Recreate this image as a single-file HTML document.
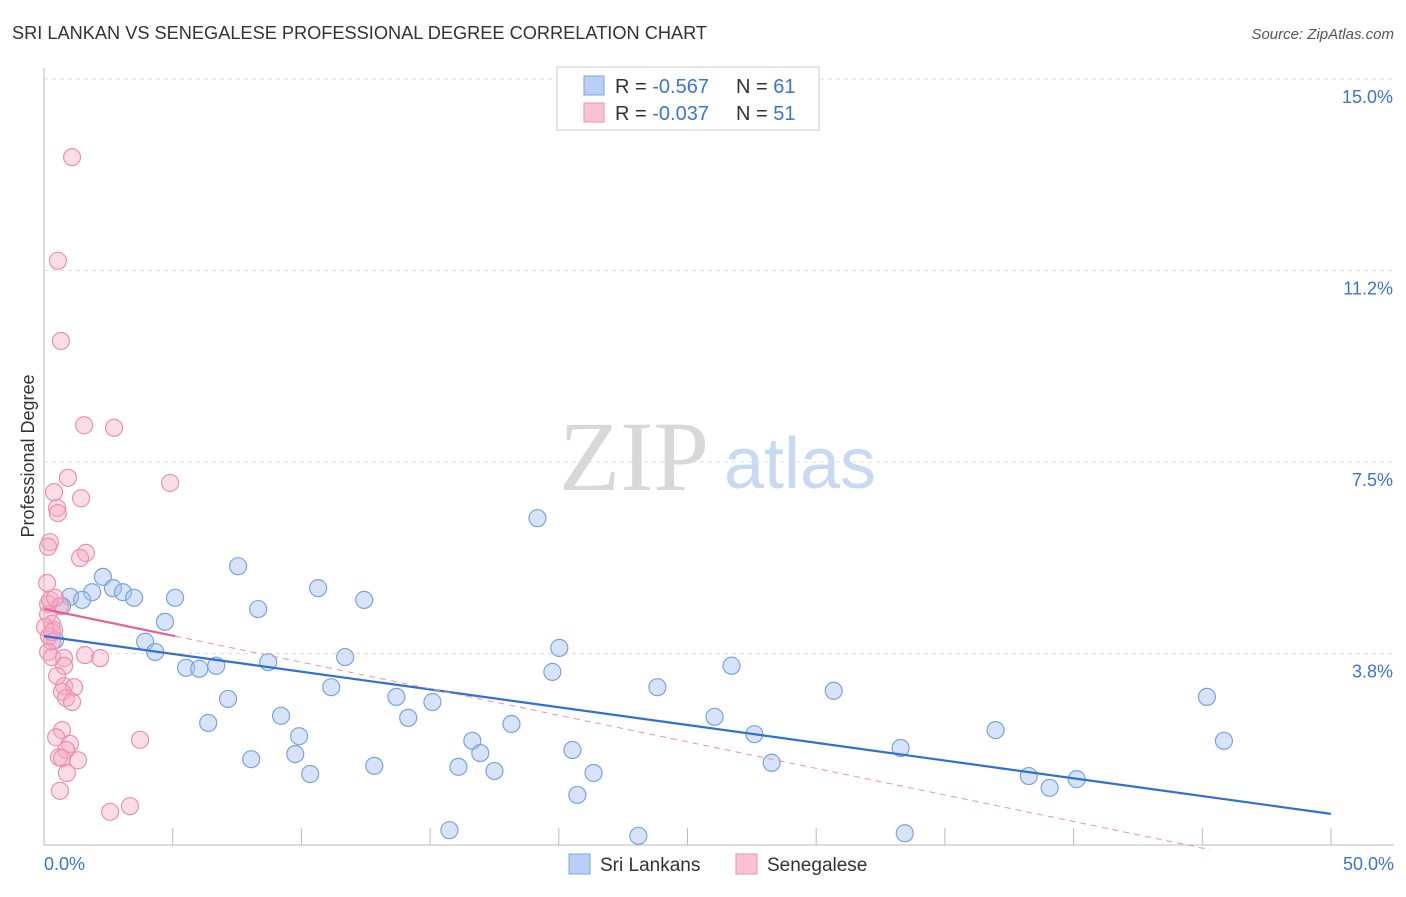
<!DOCTYPE html>
<html><head><meta charset="utf-8"><style>
body{margin:0;background:#fff;font-family:"Liberation Sans",sans-serif;}
svg text{font-family:"Liberation Sans",sans-serif;}
</style></head><body>
<svg id="chart" width="1406" height="892">
<text x="12" y="39" font-size="18.2" fill="#333">SRI LANKAN VS SENEGALESE PROFESSIONAL DEGREE CORRELATION CHART</text>
<text x="1394" y="39" font-size="15" fill="#555" font-style="italic" text-anchor="end">Source: ZipAtlas.com</text>
<text x="34" y="456" font-size="18" fill="#333" text-anchor="middle" transform="rotate(-90 34 456)">Professional Degree</text>
<g>
<text x="634" y="490" font-size="100" fill="#d8d8d8" style="font-family:'Liberation Serif',serif" text-anchor="middle">ZIP</text>
<text x="800" y="488" font-size="72" fill="#c8daf3" text-anchor="middle">atlas</text>
</g>
<g id="grid"></g><g id="axes"></g><g id="marks"></g>
<g>
<rect x="557" y="67" width="262" height="63" fill="#fff" stroke="#ccc"/>
<rect x="584" y="76" width="20" height="19" fill="#b8d0f5" stroke="#7ba3e0"/>
<rect x="584" y="103" width="20" height="19" fill="#f8c4d5" stroke="#ee8fb0"/>
<text x="615" y="93" font-size="20" fill="#333">R = <tspan fill="#3a74d6">-0.567</tspan><tspan x="736">N = </tspan><tspan fill="#3a74d6">61</tspan></text>
<text x="615" y="120" font-size="20" fill="#333">R = <tspan fill="#3a74d6">-0.037</tspan><tspan x="736">N = </tspan><tspan fill="#3a74d6">51</tspan></text>
</g>
<g>
<rect x="569" y="854" width="21" height="20" fill="#b8d0f5" stroke="#7ba3e0"/>
<text x="600" y="871" font-size="19" fill="#333">Sri Lankans</text>
<rect x="736" y="854" width="21" height="20" fill="#f8c4d5" stroke="#ee8fb0"/>
<text x="767" y="871" font-size="19" fill="#333">Senegalese</text>
</g>
</svg>
<script>
const yTicks=[3.75,7.5,11.25,15];
const yTickLabels=["3.8%","7.5%","11.2%","15.0%"];
const xTicks=[0,5,10,15,20,25,30,35,40,45,50];
const xEndLabels=["0.0%","50.0%"];
const blueX=[19.17,7.54,10.65,2.29,2.68,3.07,1.87,1.01,1.48,3.50,5.09,8.32,12.44,0.70,0.43,4.70,3.93,4.32,20.02,11.70,8.71,5.52,6.03,6.69,26.71,19.75,11.16,23.83,30.68,45.18,13.69,15.09,7.15,9.21,14.15,26.05,6.38,18.16,36.97,27.60,9.91,16.64,45.84,16.95,33.28,20.53,9.76,8.05,12.83,16.10,28.27,17.50,10.34,21.35,38.26,40.12,39.07,20.72,15.75,23.09,33.44];
const blueY=[6.40,5.46,5.03,5.25,5.03,4.95,4.95,4.86,4.80,4.84,4.84,4.62,4.80,4.68,4.01,4.37,3.98,3.78,3.86,3.68,3.58,3.47,3.45,3.51,3.51,3.39,3.09,3.09,3.02,2.90,2.90,2.80,2.86,2.53,2.49,2.51,2.39,2.37,2.25,2.17,2.13,2.04,2.04,1.80,1.90,1.86,1.78,1.68,1.55,1.53,1.61,1.45,1.39,1.41,1.35,1.29,1.12,0.98,0.29,0.18,0.23];
const pinkX=[1.09,0.54,0.66,1.56,2.72,4.90,0.93,0.39,1.44,0.51,0.54,0.23,0.16,1.63,1.40,0.12,0.16,0.62,0.16,0.31,0.39,0.19,0.31,0.16,0.31,0.78,2.18,1.59,0.78,0.51,0.78,1.17,0.70,0.86,1.09,0.70,0.47,3.73,1.01,0.86,0.58,0.70,1.32,0.89,0.62,3.34,2.57,0.23,0.04,0.31,0.43];
const pinkY=[13.47,11.44,9.87,8.22,8.17,7.09,7.19,6.91,6.79,6.60,6.50,5.93,5.84,5.72,5.62,5.13,4.72,4.68,4.52,4.33,4.21,4.09,3.98,3.78,3.68,3.66,3.66,3.72,3.51,3.31,3.11,3.09,3.00,2.88,2.80,2.25,2.11,2.06,1.98,1.86,1.72,1.70,1.66,1.41,1.06,0.76,0.65,4.80,4.27,4.17,4.84];
const blueTrend=[4.09,0.61];
const pinkTrend=[4.62,-0.104];
const NS="http://www.w3.org/2000/svg";
const X=v=>44+v/50*1287, Y=v=>845-v/3.75*191.5;
function mk(tag,attrs,parent){const e=document.createElementNS(NS,tag);for(const k in attrs)e.setAttribute(k,attrs[k]);parent.appendChild(e);return e;}
const grid=document.getElementById('grid'),axes=document.getElementById('axes'),marks=document.getElementById('marks');
yTicks.forEach((t,i)=>{
  const l=mk('line',{x1:44,x2:1394,y1:Y(t),y2:Y(t),stroke:'#ddd','stroke-dasharray':'4,4'},grid);
  
  
  const tx=mk('text',{x:1393,y:Y(t)+24,'font-size':18,fill:'#3a74d6','text-anchor':'end'},axes);
  tx.textContent=yTickLabels[i];
  
  
});
const yl=mk('line',{x1:44,x2:44,y1:68,y2:845,stroke:'#bbb'},axes);


const xl=mk('line',{x1:44,x2:1394,y1:845,y2:845,stroke:'#bbb'},axes);


xTicks.forEach(t=>{const l=mk('line',{x1:X(t),x2:X(t),y1:828,y2:845,stroke:'#bbb'},axes);
  
  });
[[0,'start',44],[50,'end',1394]].forEach((a,i)=>{const t=mk('text',{x:a[2],y:870,'font-size':18,fill:'#3a74d6','text-anchor':a[1]},axes);t.textContent=xEndLabels[i];
  
  });
blueX.forEach((x,i)=>{const c=mk('circle',{cx:X(x),cy:Y(blueY[i]),r:8.5,fill:'rgba(164,194,240,0.45)',stroke:'#7ba3e0','stroke-width':1.2},marks);
  
  });
pinkX.forEach((x,i)=>{const c=mk('circle',{cx:X(x),cy:Y(pinkY[i]),r:8.5,fill:'rgba(244,170,195,0.4)',stroke:'#ee8fb0','stroke-width':1.2},marks);
  
  });
const bt=mk('line',{x1:X(0),y1:Y(blueTrend[0]),x2:X(50),y2:Y(blueTrend[1]),stroke:'#2f6fd6','stroke-width':2.2},marks);


const pf=x=>pinkTrend[0]+pinkTrend[1]*x;
const pd=mk('line',{x1:X(5.1),y1:Y(pf(5.1)),x2:X(45.3),y2:Y(pf(45.3)),stroke:'#ee8fb0','stroke-width':1,'stroke-dasharray':'6,5'},marks);


const ps=mk('line',{x1:X(0),y1:Y(pf(0)),x2:X(5.1),y2:Y(pf(5.1)),stroke:'#e8608f','stroke-width':2.2},marks);


</script>
</body></html>
